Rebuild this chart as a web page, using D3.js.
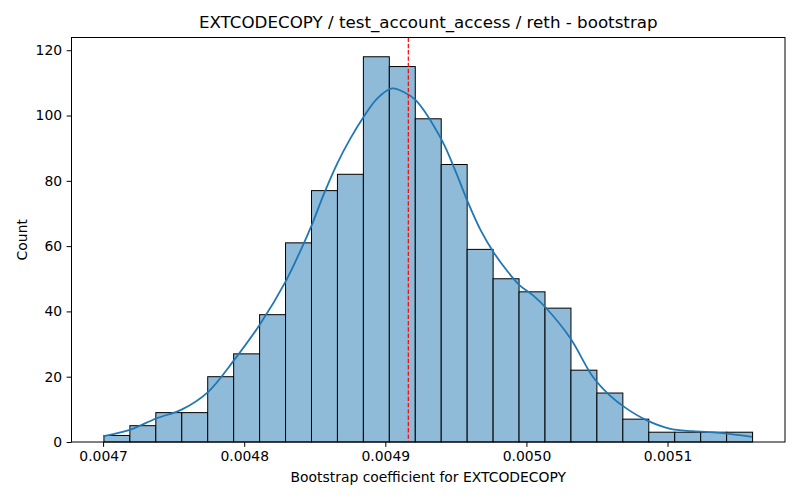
<!DOCTYPE html>
<html>
<head>
<meta charset="utf-8">
<script src="https://cdn.jsdelivr.net/npm/d3@7"></script>
<style>
  body { margin: 0; background: #fff; }
  text { font-family: "DejaVu Sans", sans-serif; fill: #000; }
</style>
</head>
<body>
<script>
// histogram bins (25 bins, equal width)
var binStart = 0.0047006;
var binWidth = 0.000018386;
var counts = [2, 5, 9, 9, 20, 27, 39, 61, 77, 82, 118, 115, 99, 85, 59, 50, 46, 41, 22, 15, 7, 3, 3, 3, 3];

// kde curve
var kdeX = [0.0047006, 0.0047194, 0.0047376, 0.0047560, 0.0047743, 0.0047927, 0.0048111, 0.0048299,
            0.0048400, 0.0048483, 0.0048565, 0.0048659, 0.0048753, 0.0048847, 0.0048942, 0.0049048,
            0.0049130, 0.0049215, 0.0049401, 0.0049495, 0.0049585, 0.0049680, 0.0049769, 0.0049860,
            0.0049952, 0.0050045, 0.0050136, 0.0050308, 0.0050472, 0.0050590, 0.0050708, 0.0050850,
            0.0051014, 0.0051179, 0.0051368, 0.0051598];
var kdeY = [1.8, 3.8, 7.2, 10.0, 15.3, 25, 36, 49.6,
            58.7, 66.9, 76, 85.3, 93, 99.6, 105.2, 108.3,
            107.2, 104.7, 92.4, 83.2, 73.5, 64.5, 58.0, 52.6,
            48, 45, 41.2, 32, 19.9, 14.3, 10.3, 6.7,
            4.1, 3.3, 2.8, 1.6];

var meanLine = 0.0049163;
var xTicks = [0.0047, 0.0048, 0.0049, 0.0050, 0.0051];
var yTicks = [0, 20, 40, 60, 80, 100, 120];

var W = 800, H = 500;
var margin = {top: 37.5, right: 15, bottom: 58, left: 71.5};
var width = W - margin.left - margin.right,
    height = H - margin.top - margin.bottom;

var svg = d3.select("body").append("svg")
    .attr("width", W)
    .attr("height", H);

var g = svg.append("g")
    .attr("transform", "translate(" + margin.left + "," + margin.top + ")");

var dataMin = binStart, dataMax = binStart + binWidth * counts.length;
var pad = (dataMax - dataMin) * 0.05;
var x = d3.scaleLinear().domain([dataMin - pad, dataMax + pad]).range([0, width]);
var y = d3.scaleLinear().domain([0, d3.max(counts) * 1.05]).range([height, 0]);

// bars
g.selectAll(".bar")
  .data(counts)
.enter().append("rect")
  .attr("class", "bar")
  .attr("x", function(d, i) { return x(binStart + i * binWidth); })
  .attr("width", function(d, i) { return x(binStart + (i + 1) * binWidth) - x(binStart + i * binWidth); })
  .attr("y", function(d) { return y(d); })
  .attr("height", function(d) { return y(0) - y(d); })
  .attr("fill", "#8fbbd9")
  .attr("stroke", "#000")
  .attr("stroke-width", 1);

// kde line
var kdeData = kdeX.map(function(v, i) { return {x: v, y: kdeY[i]}; });
g.append("path")
  .datum(kdeData)
  .attr("fill", "none")
  .attr("stroke", "#1f77b4")
  .attr("stroke-width", 1.8)
  .attr("d", d3.line()
    .x(function(d) { return x(d.x); })
    .y(function(d) { return y(d.y); })
    .curve(d3.curveCatmullRom.alpha(0.5)));

// mean line
g.append("line")
  .attr("x1", x(meanLine)).attr("x2", x(meanLine))
  .attr("y1", 0).attr("y2", height)
  .attr("stroke", "red")
  .attr("stroke-width", 1.2)
  .attr("stroke-dasharray", "4.4,1.9");

// axes
var xAxis = g.append("g")
  .attr("transform", "translate(0," + height + ")")
  .call(d3.axisBottom(x).tickValues(xTicks).tickFormat(d3.format(".4f")).tickSizeOuter(0).tickSize(4.9).tickPadding(4.5));
var yAxis = g.append("g")
  .call(d3.axisLeft(y).tickValues(yTicks).tickSizeOuter(0).tickSize(4.9).tickPadding(4.5));

[xAxis, yAxis].forEach(function(a) {
  a.select(".domain").remove();
  a.selectAll("text").style("font-size", "13.9px").style("font-family", "DejaVu Sans");
  a.selectAll("line").attr("stroke", "#000").attr("stroke-width", 1);
});

// frame
g.append("rect")
  .attr("x", 0).attr("y", 0)
  .attr("width", width).attr("height", height)
  .attr("fill", "none")
  .attr("stroke", "#000")
  .attr("stroke-width", 1);

// titles
svg.append("text")
  .attr("x", margin.left + width / 2)
  .attr("y", 28)
  .attr("text-anchor", "middle")
  .style("font-size", "16.7px")
  .text("EXTCODECOPY / test_account_access / reth - bootstrap");

svg.append("text")
  .attr("x", margin.left + width / 2)
  .attr("y", 482)
  .attr("text-anchor", "middle")
  .style("font-size", "13.9px")
  .text("Bootstrap coefficient for EXTCODECOPY");

svg.append("text")
  .attr("transform", "translate(27," + (margin.top + height / 2) + ") rotate(-90)")
  .attr("text-anchor", "middle")
  .style("font-size", "13.9px")
  .text("Count");
</script>
</body>
</html>
